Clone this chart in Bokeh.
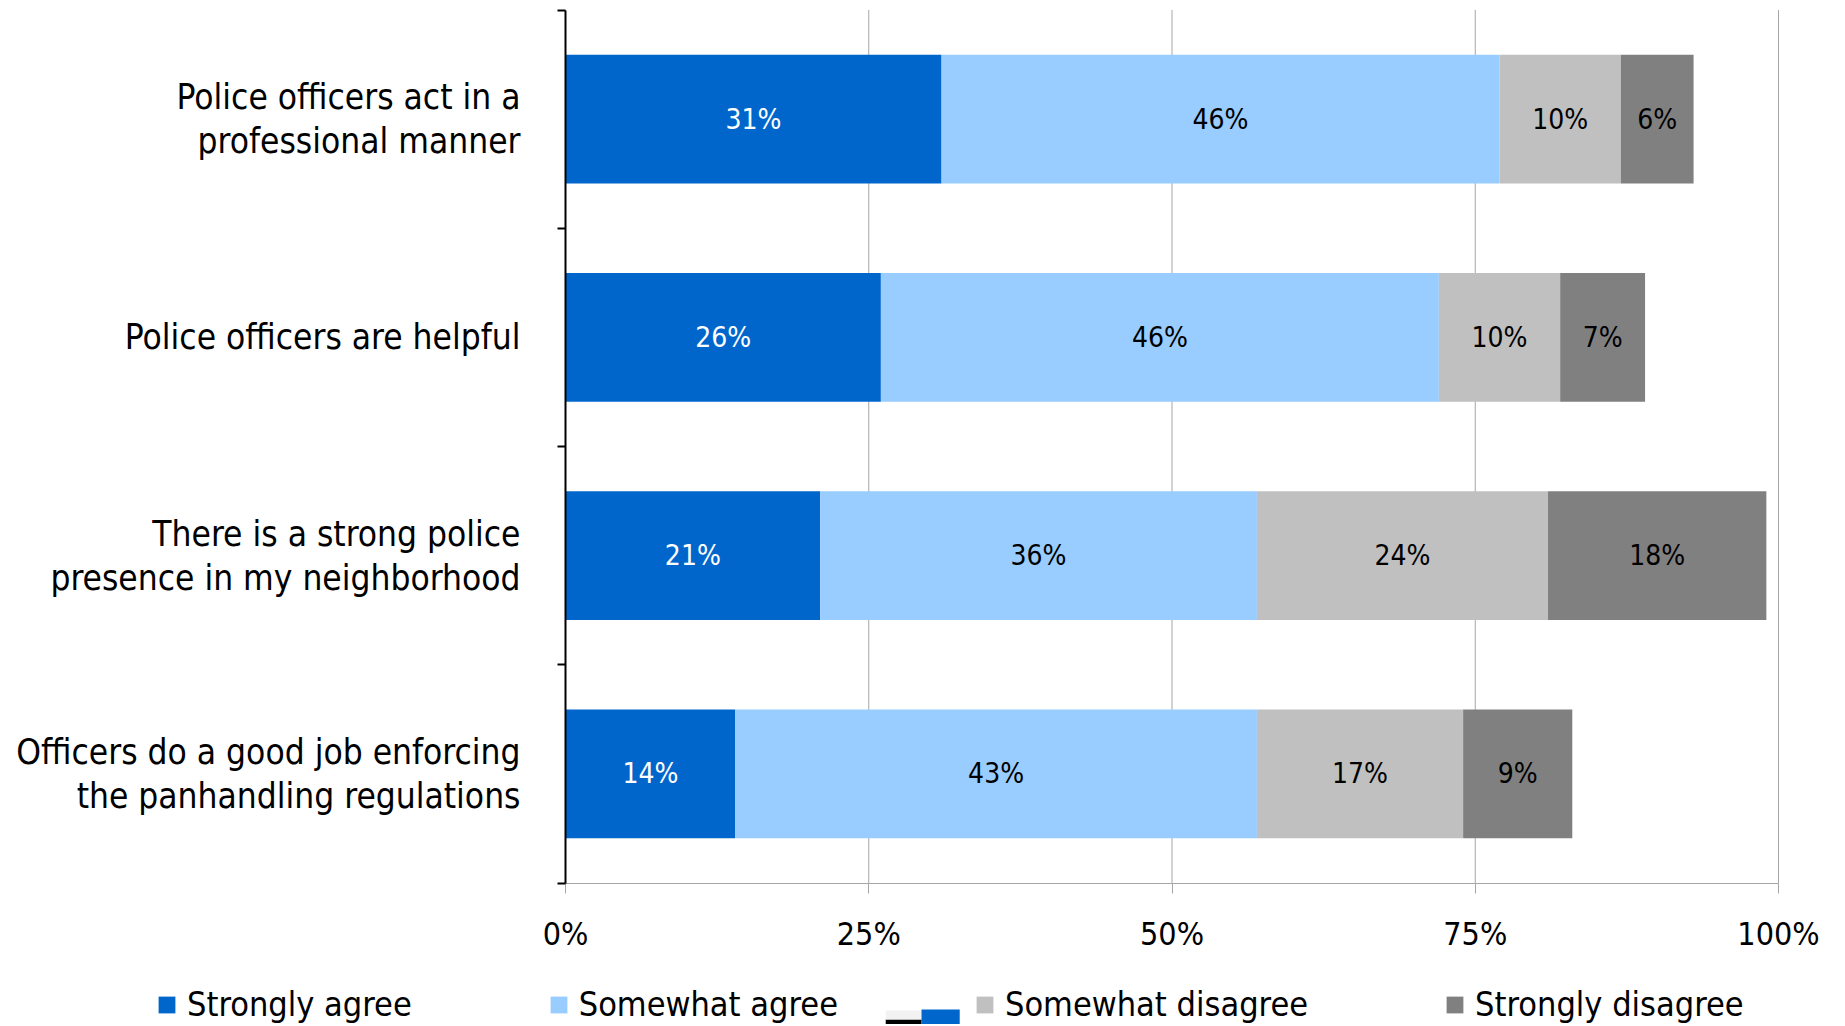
from bokeh.plotting import figure
from bokeh.models import Range1d, FixedTicker, ColumnDataSource, Legend, LegendItem
from bokeh.core.properties import value
from bokeh.embed import file_html
from bokeh.resources import INLINE

categories = [
    "Police officers act in a\nprofessional manner",
    "Police officers are helpful",
    "There is a strong police\npresence in my neighborhood",
    "Officers do a good job enforcing\nthe panhandling regulations",
]
series = ["Strongly agree", "Somewhat agree", "Somewhat disagree", "Strongly disagree"]
strongly_agree = [31, 26, 21, 14]
somewhat_agree = [46, 46, 36, 43]
somewhat_disagree = [10, 10, 24, 17]
strongly_disagree = [6, 7, 18, 9]
x_ticks = [0, 25, 50, 75, 100]
x_tick_labels = ["0%", "25%", "50%", "75%", "100%"]

colors = ["#0066CC", "#99CCFF", "#C0C0C0", "#808080"]
label_colors = ["white", "black", "black", "black"]
FONT = "DejaVu Sans Condensed, Liberation Sans, sans-serif"

# page layout (pixels): plot area 0%..100% spans x 565..1778, categories span y 9.5..882.5
W, H = 1840, 1024
PX_L, PX_R, PY_T, PY_B = 565.0, 1778.0, 9.5, 882.5
n = len(categories)
ppx = (PX_R - PX_L) / 100.0
ppy = (PY_B - PY_T) / n
x_range = Range1d(-PX_L / ppx, (W - PX_L) / ppx)
y_range = Range1d(-(H - PY_B) / ppy, n + PY_T / ppy)

p = figure(width=W, height=H, output_backend="svg", toolbar_location=None,
           x_range=x_range, y_range=y_range, min_border=0, outline_line_color=None)
p.grid.visible = False

# vertical grid lines from the tick positions, limited to the category area
p.segment(x0=x_ticks, y0=[0] * len(x_ticks), x1=x_ticks, y1=[n] * len(x_ticks),
          line_color="#A6A6A6", line_width=1, level="underlay")

ypos = [n - 0.5 - i for i in range(n)]
vals = [strongly_agree, somewhat_agree, somewhat_disagree, strongly_disagree]
left = [0.0] * n
items = []
for s, v, c, lc in zip(series, vals, colors, label_colors):
    right = [l + x for l, x in zip(left, v)]
    src = ColumnDataSource(dict(y=ypos, left=left, right=right,
                                mid=[(a + b) / 2 for a, b in zip(left, right)],
                                txt=[f"{x}%" for x in v]))
    r = p.hbar(y="y", left="left", right="right", height=0.59, source=src,
               fill_color=c, line_color=None)
    items.append(LegendItem(label=s, renderers=[r]))
    p.text(x="mid", y="y", text="txt", source=src, text_align="center",
           text_baseline="middle", text_color=lc, text_font=value(FONT),
           text_font_size="28px")
    left = right

# x axis at y = 0
xax = p.xaxis[0]
xax.fixed_location = 0
xax.bounds = (0, 100)
xax.ticker = FixedTicker(ticks=x_ticks)
xax.major_label_overrides = {t: l for t, l in zip(x_ticks, x_tick_labels)}
xax.axis_line_color = "#A6A6A6"
xax.major_tick_line_color = "#A6A6A6"
xax.major_tick_out = 10
xax.major_tick_in = 0
xax.minor_tick_line_color = None
xax.major_label_text_font = FONT
xax.major_label_text_font_size = "32px"
xax.major_label_text_color = "black"
xax.major_label_standoff = 22

# y axis at x = 0 with category labels
yax = p.yaxis[0]
yax.fixed_location = 0
yax.bounds = (0, n)
yax.ticker = FixedTicker(ticks=ypos, minor_ticks=list(range(n + 1)))
yax.major_label_overrides = {y: c for y, c in zip(ypos, categories)}
yax.major_tick_line_color = None
yax.minor_tick_line_color = "black"
yax.minor_tick_line_width = 2
yax.minor_tick_out = 8
yax.minor_tick_in = 0
yax.axis_line_color = "black"
yax.axis_line_width = 2
yax.major_label_standoff = 37
yax.major_label_text_font = FONT
yax.major_label_text_font_size = "35px"
yax.major_label_text_color = "black"
yax.major_label_text_line_height = 1.1

# small stray marker seen in the original legend area
p.quad(left=[26.4], right=[29.35], bottom=[-0.70], top=[-0.6254], fill_color="black", line_color=None)
p.quad(left=[26.4], right=[29.35], bottom=[-0.6254], top=[-0.584], fill_color="#F2F2F2", line_color=None)
p.quad(left=[29.35], right=[32.5], bottom=[-0.70], top=[-0.5796], fill_color="#0066CC", line_color=None)

lg = Legend(items=items, orientation="horizontal", location=(156, 0),
            border_line_color=None, background_fill_alpha=0, padding=0, margin=0,
            spacing=136, glyph_width=21, glyph_height=21, label_standoff=10,
            label_text_font=FONT, label_text_font_size="34px", label_text_color="black")
p.add_layout(lg, "center")

open("out.html", "w").write(file_html(p, INLINE))
